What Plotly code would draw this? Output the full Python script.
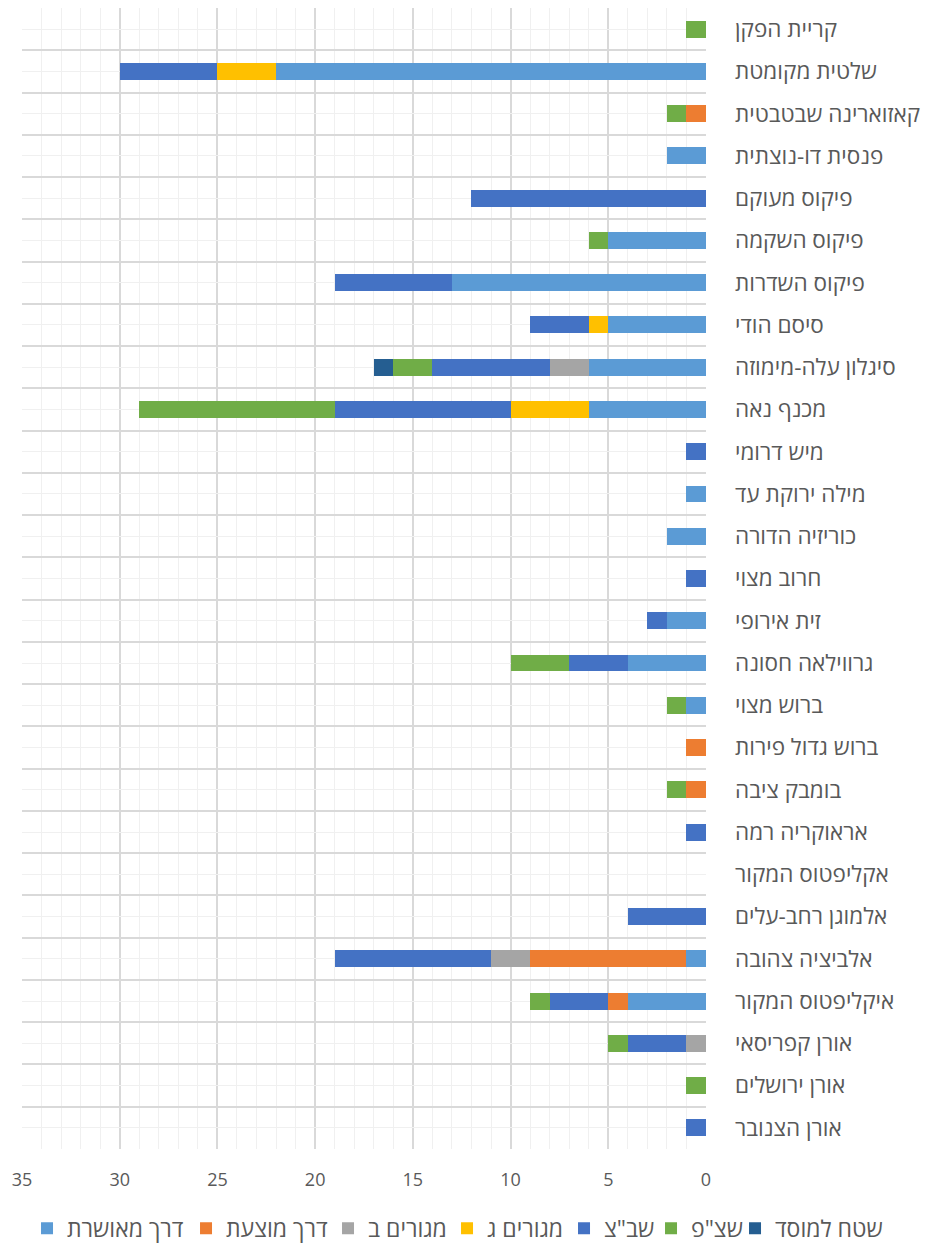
import plotly.graph_objects as go

categories = ["קריית הפקן", "שלטית מקומטת", "קאזוארינה שבטבטית", "פנסית דו-נוצתית",
              "פיקוס מעוקם", "פיקוס השקמה", "פיקוס השדרות", "סיסם הודי",
              "סיגלון עלה-מימוזה", "מכנף נאה", "מיש דרומי", "מילה ירוקת עד",
              "כוריזיה הדורה", "חרוב מצוי", "זית אירופי", "גרווילאה חסונה",
              "ברוש מצוי", "ברוש גדול פירות", "בומבק ציבה", "אראוקריה רמה",
              "אקליפטוס המקור", "אלמוגן רחב-עלים", "אלביציה צהובה", "איקליפטוס המקור",
              "אורן קפריסאי", "אורן ירושלים", "אורן הצנובר"]

approved_road = [0, 22, 0, 2, 0, 5, 13, 5, 6, 6, 0, 1, 2, 0, 2, 4, 1, 0, 0, 0, 0, 0, 1, 4, 0, 0, 0]
proposed_road = [0, 0, 1, 0, 0, 0, 0, 0, 0, 0, 0, 0, 0, 0, 0, 0, 0, 1, 1, 0, 0, 0, 8, 1, 0, 0, 0]
residential_b = [0, 0, 0, 0, 0, 0, 0, 0, 2, 0, 0, 0, 0, 0, 0, 0, 0, 0, 0, 0, 0, 0, 2, 0, 1, 0, 0]
residential_g = [0, 3, 0, 0, 0, 0, 0, 1, 0, 4, 0, 0, 0, 0, 0, 0, 0, 0, 0, 0, 0, 0, 0, 0, 0, 0, 0]
public_buildings = [0, 5, 0, 0, 12, 0, 6, 3, 6, 9, 1, 0, 0, 1, 1, 3, 0, 0, 0, 1, 0, 4, 8, 3, 3, 0, 1]
public_open_space = [1, 0, 1, 0, 0, 1, 0, 0, 2, 10, 0, 0, 0, 0, 0, 3, 1, 0, 1, 0, 0, 0, 0, 1, 1, 1, 0]
institution_area = [0, 0, 0, 0, 0, 0, 0, 0, 1, 0, 0, 0, 0, 0, 0, 0, 0, 0, 0, 0, 0, 0, 0, 0, 0, 0, 0]

series_names = ["דרך מאושרת", "דרך מוצעת", "מגורים ב", "מגורים ג", 'שב"צ', 'שצ"פ', "שטח למוסד"]
series_values = [approved_road, proposed_road, residential_b, residential_g,
                 public_buildings, public_open_space, institution_area]
series_colors = ["#5B9BD5", "#ED7D31", "#A5A5A5", "#FFC000", "#4472C4", "#70AD47", "#255E91"]
legend_widths = [114, 97, 74, 72, 42, 39, 103]
x_ticks = [0, 5, 10, 15, 20, 25, 30, 35]

FONT = "Open Sans, Liberation Sans, DejaVu Sans, sans-serif"
TXT = "#595959"

fig = go.Figure()
for name, vals, col, lw in zip(series_names, series_values, series_colors, legend_widths):
    fig.add_trace(go.Bar(y=categories, x=vals, name=name, orientation="h", legendwidth=lw,
                         marker=dict(color=col, line=dict(width=0))))

# helper trace for the light center gridlines
fig.add_trace(go.Scatter(y=categories, x=[0] * len(categories), yaxis="y2",
                         mode="markers", marker=dict(opacity=0), showlegend=False,
                         hoverinfo="skip"))

n = len(categories)
fig.update_layout(
    width=921, height=1237,
    barmode="stack", bargap=0.6,
    plot_bgcolor="white", paper_bgcolor="white",
    margin=dict(l=14, r=223, t=0, b=96, autoexpand=False),
    font=dict(family=FONT, color=TXT),
    xaxis=dict(range=[35, 0], tickvals=x_ticks, showgrid=True, gridcolor="#D9D9D9",
               gridwidth=1.5, zeroline=False, showline=False, automargin=False,
               tickfont=dict(size=18, color=TXT), ticklabelstandoff=18,
               minor=dict(dtick=1, tick0=0, showgrid=True, gridcolor="#F0F0F0", gridwidth=1)),
    yaxis=dict(type="category", categoryarray=categories, categoryorder="array",
               range=[n - 0.5, -0.5], side="right", tickson="boundaries",
               showgrid=True, gridcolor="#D9D9D9", gridwidth=1.5, ticks="",
               tickfont=dict(size=22.5, color=TXT), ticklabelstandoff=28, showline=False,
               zeroline=False, automargin=False),
    yaxis2=dict(type="category", categoryarray=categories, categoryorder="array",
                range=[n - 0.5, -0.5], overlaying="y", side="left", showgrid=True,
                gridcolor="#F0F0F0", gridwidth=1, showticklabels=False, ticks="",
                zeroline=False, showline=False, automargin=False),
    legend=dict(orientation="h", xref="paper", yref="paper", x=1.2588, y=-0.0695,
                xanchor="right", yanchor="middle", traceorder="normal", itemwidth=30,
                font=dict(size=23, color=TXT)),
    showlegend=True,
)

fig.write_html("out.html")
